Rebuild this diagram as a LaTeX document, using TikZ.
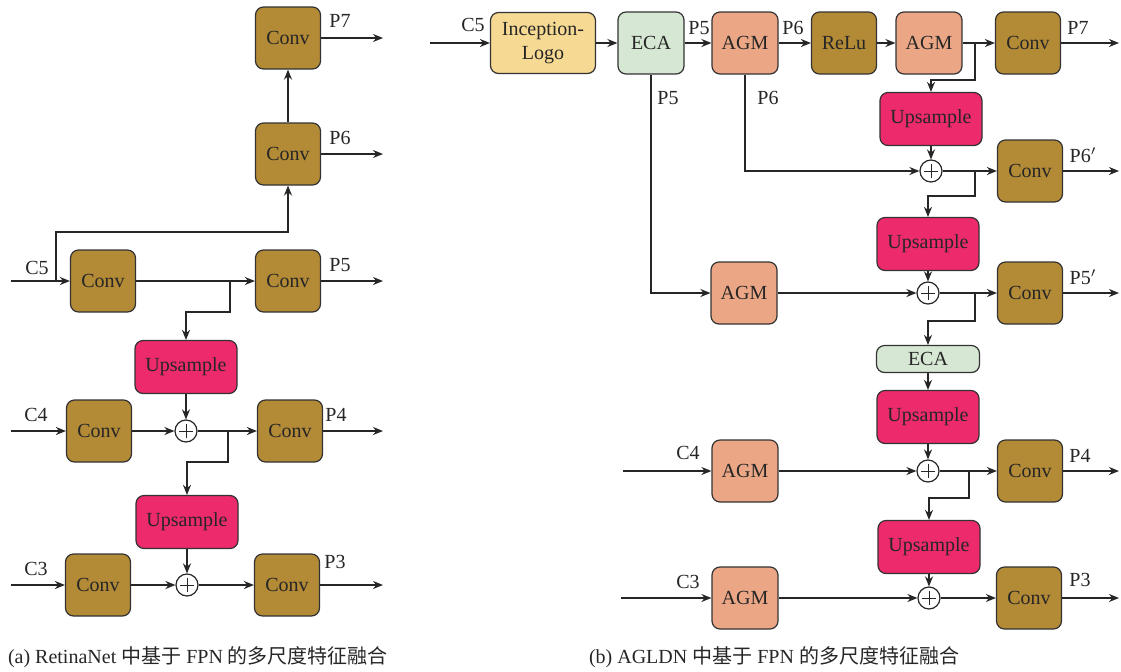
\documentclass[tikz,border=0pt]{standalone}
\usepackage{fontspec}
\setmainfont{LiberationSerif}[Extension=.ttf, UprightFont=*-Regular, BoldFont=*-Bold, ItalicFont=*-Italic]
\newfontfamily\cjk{Noto Sans CJK SC}
\usepackage{tikz}
\usetikzlibrary{arrows.meta}
\definecolor{convcol}{HTML}{B38A36}
\definecolor{upcol}{HTML}{EC2A6C}
\definecolor{agmcol}{HTML}{EBA785}
\definecolor{ecacol}{HTML}{D6E8D3}
\definecolor{inccol}{HTML}{F6D993}
\tikzset{
	blk/.style={draw=black!80, line width=0.6pt, rounded corners=4pt, text=black!85, inner sep=0pt},
	convbox/.style={blk, fill=convcol, minimum width=32.5pt, minimum height=31pt},
	agmbox/.style={blk, fill=agmcol, minimum width=33pt, minimum height=31pt},
	upbox/.style={blk, fill=upcol, minimum width=51pt, minimum height=26.5pt},
	ecabox/.style={blk, fill=ecacol, minimum width=33pt, minimum height=31pt},
	ecaflat/.style={blk, fill=ecacol, minimum width=51.5pt, minimum height=13.5pt, rounded corners=4pt},
	incbox/.style={blk, fill=inccol, minimum width=52.5pt, minimum height=30.5pt, align=center},
	sumnode/.style={circle, draw=black!85, line width=0.6pt, fill=white, minimum size=11pt, inner sep=0pt,
		path picture={\draw[line width=0.5pt, black!85] ([xshift=-3.5pt]path picture bounding box.center) -- ([xshift=3.5pt]path picture bounding box.center);
			\draw[line width=0.5pt, black!85] ([yshift=-3.5pt]path picture bounding box.center) -- ([yshift=3.5pt]path picture bounding box.center);}},
	arr/.style={line width=1.1pt, draw=black!85, -{Stealth[length=5pt,width=4pt]}},
	lbl/.style={text=black!85, inner sep=0pt}
}

\begin{document}
\begin{tikzpicture}[x=0.5pt, y=-0.5pt]
			%%%%% START %%%%%
			\useasboundingbox (0,0) rectangle (1121,671);
			
			% (a) RetinaNet
			\node[convbox] (ca7) at (288,38) {Conv};
			\node[convbox] (ca6) at (288,154) {Conv};
			\node[convbox] (ca5in) at (103,281) {Conv};
			\node[convbox] (ca5) at (288,281) {Conv};
			\node[upbox] (ua4) at (186,367) {Upsample};
			\node[convbox] (ca4in) at (99,431) {Conv};
			\node[sumnode] (sa4) at (186,431) {};
			\node[convbox] (ca4) at (290,431) {Conv};
			\node[upbox] (ua3) at (187,522) {Upsample};
			\node[convbox] (ca3in) at (98,585) {Conv};
			\node[sumnode] (sa3) at (187,585) {};
			\node[convbox] (ca3) at (287,585) {Conv};
			
			\coordinate (ina5) at (11,281);
			\coordinate (ina4) at (11,431);
			\coordinate (ina3) at (11,585);
			\coordinate (outa7) at (383,38);
			\coordinate (outa6) at (383,154);
			\coordinate (outa5) at (383,281);
			\coordinate (outa4) at (383,431);
			\coordinate (outa3) at (383,585);
			\coordinate (ba5) at (56,281);
			\coordinate (ba5r) at (230,281);
			\coordinate (ba4) at (228,431);
			
			\node[lbl] (la5c) at (37,268) {C5};
			\node[lbl] (la4c) at (36,415) {C4};
			\node[lbl] (la3c) at (36,569) {C3};
			\node[lbl] (la7) at (340,21) {P7};
			\node[lbl] (la6) at (340,138) {P6};
			\node[lbl] (la5) at (340,265) {P5};
			\node[lbl] (la4) at (336,415) {P4};
			\node[lbl] (la3) at (335,562) {P3};
			
			\draw[arr] (ina5) -- (ca5in);
			\draw[arr] (ba5) -- (56,232) -| (ca6.south);
			\draw[arr] (ca6) -- (ca7);
			\draw[arr] (ca7) -- (outa7);
			\draw[arr] (ca6) -- (outa6);
			\draw[arr] (ca5in) -- (ca5);
			\draw[arr] (ca5) -- (outa5);
			\draw[arr] (ba5r) -- (230,312) -| (ua4.north);
			\draw[arr] (ua4) -- (sa4);
			\draw[arr] (ina4) -- (ca4in);
			\draw[arr] (ca4in) -- (sa4);
			\draw[arr] (sa4) -- (ca4);
			\draw[arr] (ca4) -- (outa4);
			\draw[arr] (ba4) -- (228,462) -| (ua3.north);
			\draw[arr] (ua3) -- (sa3);
			\draw[arr] (ina3) -- (ca3in);
			\draw[arr] (ca3in) -- (sa3);
			\draw[arr] (sa3) -- (ca3);
			\draw[arr] (ca3) -- (outa3);
			
			\node[lbl] (capa) at (198,657) {(a) RetinaNet {\cjk 中基于} FPN {\cjk 的多尺度特征融合}};
			
			% (b) AGLDN
			\node[incbox] (incep) at (543,43) {Inception-\\Logo};
			\node[ecabox] (ecat) at (651,43) {ECA};
			\node[agmbox] (agm6) at (745,43) {AGM};
			\node[convbox] (relu) at (844,43) {ReLu};
			\node[agmbox] (agm7) at (929,43) {AGM};
			\node[convbox] (cb7) at (1028,43) {Conv};
			\node[upbox] (ub6) at (931,119) {Upsample};
			\node[sumnode] (sb6) at (931,171) {};
			\node[convbox] (cb6) at (1030,171) {Conv};
			\node[upbox] (ub5) at (928,244) {Upsample};
			\node[sumnode] (sb5) at (928,293) {};
			\node[agmbox] (agm5) at (744,293) {AGM};
			\node[convbox] (cb5) at (1030,293) {Conv};
			\node[ecaflat] (ecab) at (928,359) {ECA};
			\node[upbox] (ub4) at (928,417) {Upsample};
			\node[sumnode] (sb4) at (928,471) {};
			\node[agmbox] (agm4) at (745,471) {AGM};
			\node[convbox] (cb4) at (1030,471) {Conv};
			\node[upbox] (ub3) at (929,547) {Upsample};
			\node[sumnode] (sb3) at (929,598) {};
			\node[agmbox] (agm3) at (745,598) {AGM};
			\node[convbox] (cb3) at (1029,598) {Conv};
			
			\coordinate (inb5) at (430,43);
			\coordinate (inb4) at (623,471);
			\coordinate (inb3) at (621,598);
			\coordinate (outb7) at (1119,43);
			\coordinate (outb6) at (1119,171);
			\coordinate (outb5) at (1119,293);
			\coordinate (outb4) at (1119,471);
			\coordinate (outb3) at (1119,598);
			\coordinate (bb7) at (975,43);
			\coordinate (bb6) at (975,171);
			\coordinate (bb5) at (975,293);
			\coordinate (bb4) at (969,471);
			
			\node[lbl] (lb5c) at (473,25) {C5};
			\node[lbl] (lb4c) at (688,453) {C4};
			\node[lbl] (lb3c) at (688,582) {C3};
			\node[lbl] (lb5t) at (699,28) {P5};
			\node[lbl] (lb6t) at (793,28) {P6};
			\node[lbl] (lb5v) at (668,98) {P5};
			\node[lbl] (lb6v) at (768,98) {P6};
			\node[lbl] (lb7) at (1078,28) {P7};
			\node[lbl] (lb6) at (1083,155) {P6$'$};
			\node[lbl] (lb5) at (1083,277) {P5$'$};
			\node[lbl] (lb4) at (1080,456) {P4};
			\node[lbl] (lb3) at (1080,580) {P3};
			
			\draw[arr] (inb5) -- (incep);
			\draw[arr] (incep) -- (ecat);
			\draw[arr] (ecat) -- (agm6);
			\draw[arr] (agm6) -- (relu);
			\draw[arr] (relu) -- (agm7);
			\draw[arr] (agm7) -- (cb7);
			\draw[arr] (cb7) -- (outb7);
			\draw[arr] (bb7) -- (975,80) -| (ub6.north);
			\draw[arr] (ub6) -- (sb6);
			\draw[arr] (agm6.south) |- (sb6.west);
			\draw[arr] (sb6) -- (cb6);
			\draw[arr] (cb6) -- (outb6);
			\draw[arr] (bb6) -- (975,196) -| (ub5.north);
			\draw[arr] (ub5) -- (sb5);
			\draw[arr] (ecat.south) |- (agm5.west);
			\draw[arr] (agm5) -- (sb5);
			\draw[arr] (sb5) -- (cb5);
			\draw[arr] (cb5) -- (outb5);
			\draw[arr] (bb5) -- (975,321) -| (ecab.north);
			\draw[arr] (ecab) -- (ub4);
			\draw[arr] (ub4) -- (sb4);
			\draw[arr] (inb4) -- (agm4);
			\draw[arr] (agm4) -- (sb4);
			\draw[arr] (sb4) -- (cb4);
			\draw[arr] (cb4) -- (outb4);
			\draw[arr] (bb4) -- (969,498) -| (ub3.north);
			\draw[arr] (ub3) -- (sb3);
			\draw[arr] (inb3) -- (agm3);
			\draw[arr] (agm3) -- (sb3);
			\draw[arr] (sb3) -- (cb3);
			\draw[arr] (cb3) -- (outb3);
			
			\node[lbl] (capb) at (774,657) {(b) AGLDN {\cjk 中基于} FPN {\cjk 的多尺度特征融合}};
			%%%%% END %%%%%
\end{tikzpicture}
\end{document}
